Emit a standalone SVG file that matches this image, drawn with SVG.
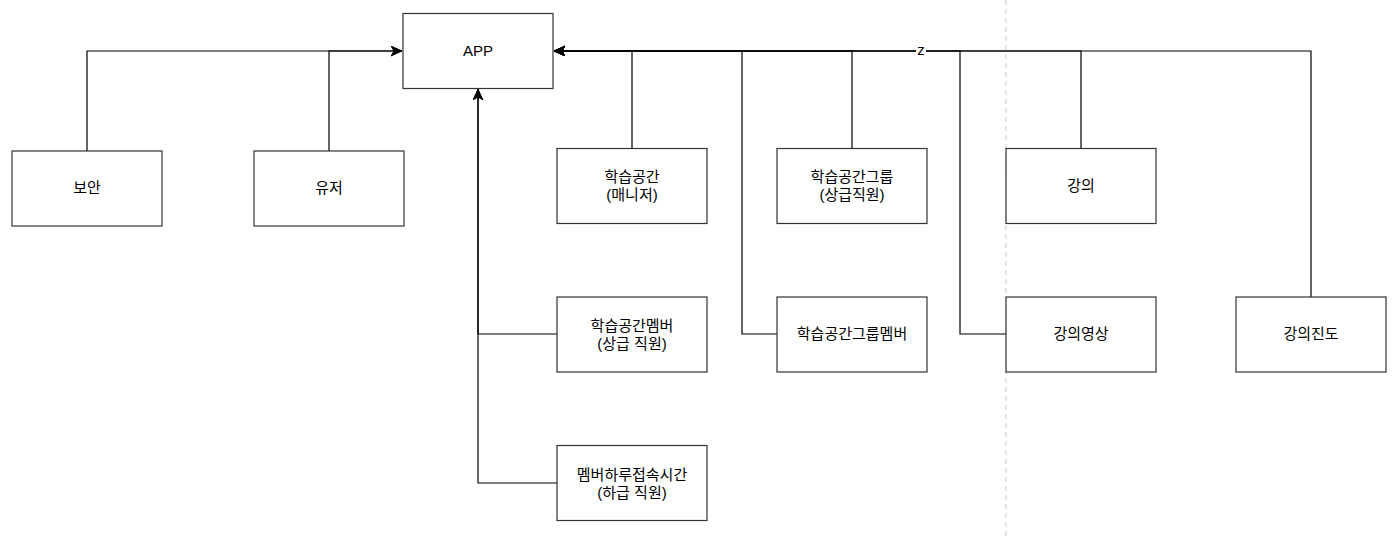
<svg xmlns="http://www.w3.org/2000/svg" width="1400" height="536" viewBox="0 0 1400 536">
<style>
.box{fill:#fff;stroke:#333;stroke-width:1.2}
.t{font-family:"Liberation Sans","Noto Sans CJK KR",sans-serif;font-size:15px;fill:#000;text-anchor:middle;dominant-baseline:central}
.c{fill:none;stroke:#000;stroke-width:1.2}
</style>
<defs>
<marker id="arr" markerUnits="userSpaceOnUse" markerWidth="13" markerHeight="11" refX="11" refY="5" orient="auto">
<path d="M0,0 L11,5 L0,10 L3,5 Z" fill="#000" stroke="#000" stroke-width="0.5"/>
</marker>
</defs>
<rect width="1400" height="536" fill="#fff"/>
<line x1="1006" y1="0" x2="1006" y2="536" stroke="#c8c8c8" stroke-dasharray="5 4"/>
<g id="connectors">
<path class="c" d="M87,151 V51 H402" marker-end="url(#arr)"/>
<path class="c" d="M329,151 V51 H402" marker-end="url(#arr)"/>
<path class="c" d="M632,148 V51 H554" marker-end="url(#arr)"/>
<path class="c" d="M852,148 V51 H554" marker-end="url(#arr)"/>
<path class="c" d="M777,334 H742 V51 H554" marker-end="url(#arr)"/>
<path class="c" d="M1081,148 V51 H554" marker-end="url(#arr)"/>
<path class="c" d="M1006,334 H960 V51 H554" marker-end="url(#arr)"/>
<path class="c" d="M1311,297 V51 H554" marker-end="url(#arr)"/>
<path class="c" d="M557,334 H478 V89" marker-end="url(#arr)"/>
<path class="c" d="M557,483 H478 V89" marker-end="url(#arr)"/>
<rect x="916" y="44" width="10" height="13" fill="#fff"/>
<text class="t" x="921" y="49.5">z</text>
</g>
<g id="app"><rect class="box" x="403" y="13.5" width="150" height="75"/><text class="t" x="478" y="50">APP</text></g>
<g id="boan"><rect class="box" x="12" y="151" width="150" height="75"/><text class="t" x="87" y="187.5">보안</text></g>
<g id="user"><rect class="box" x="254" y="151" width="150" height="75"/><text class="t" x="329" y="187.5">유저</text></g>
<g id="space"><rect class="box" x="557" y="148.5" width="150" height="75"/><text class="t" x="632" y="176">학습공간</text><text class="t" x="632" y="194">(매니저)</text></g>
<g id="group"><rect class="box" x="777" y="148.5" width="150" height="75"/><text class="t" x="852" y="176">학습공간그룹</text><text class="t" x="852" y="194">(상급직원)</text></g>
<g id="lecture"><rect class="box" x="1006" y="148.5" width="150" height="75"/><text class="t" x="1081" y="185">강의</text></g>
<g id="spacemember"><rect class="box" x="557" y="297" width="150" height="75"/><text class="t" x="632" y="325">학습공간멤버</text><text class="t" x="632" y="343">(상급 직원)</text></g>
<g id="groupmember"><rect class="box" x="777" y="297" width="150" height="75"/><text class="t" x="852" y="333.5">학습공간그룹멤버</text></g>
<g id="video"><rect class="box" x="1006" y="297" width="150" height="75"/><text class="t" x="1081" y="333.5">강의영상</text></g>
<g id="progress"><rect class="box" x="1236" y="297" width="150" height="75"/><text class="t" x="1311" y="333.5">강의진도</text></g>
<g id="daily"><rect class="box" x="557" y="445.5" width="150" height="75"/><text class="t" x="632" y="474">멤버하루접속시간</text><text class="t" x="632" y="492">(하급 직원)</text></g>
</svg>
